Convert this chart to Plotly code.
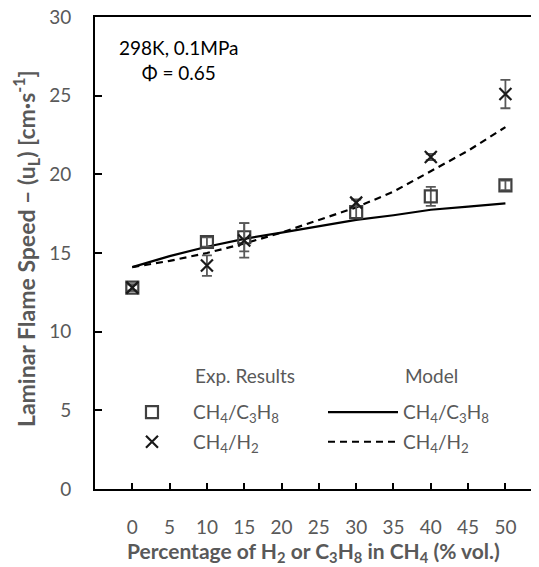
import plotly.graph_objects as go

# experimental points (x = % H2 or C3H8 in CH4)
exp_x = [0, 10, 15, 30, 40, 50]
c3h8_y = [12.8, 15.7, 16.0, 17.6, 18.6, 19.3]
c3h8_err = [0.2, 0.3, 0.9, 0.4, 0.6, 0.3]
h2_y = [12.8, 14.2, 15.8, 18.2, 21.1, 25.1]
h2_err = [0.2, 0.65, 1.1, 0.2, 0.2, 0.9]

# model curves
model_x = [0, 5, 10, 15, 20, 25, 30, 35, 40, 45, 50]
model_c3h8 = [14.1, 14.8, 15.4, 15.9, 16.3, 16.7, 17.1, 17.4, 17.75, 17.95, 18.15]
model_h2 = [14.1, 14.5, 15.0, 15.6, 16.3, 17.1, 17.9, 18.9, 20.2, 21.5, 23.0]

x_ticks = [0, 5, 10, 15, 20, 25, 30, 35, 40, 45, 50]
y_ticks = [0, 5, 10, 15, 20, 25, 30]

FONT = 'Lato'
GREY = '#595959'
c3h8 = 'CH<sub>4</sub>/C<sub>3</sub>H<sub>8</sub>'
h2 = 'CH<sub>4</sub>/H<sub>2</sub>'

fig = go.Figure()

fig.add_trace(go.Scatter(x=model_x, y=model_c3h8, mode='lines', name=c3h8,
                         line=dict(color='black', width=2.2),
                         legend='legend2', legendgroup='m1'))
fig.add_trace(go.Scatter(x=model_x, y=model_h2, mode='lines', name=h2,
                         line=dict(color='black', width=2.2, dash='7px,5px'),
                         legend='legend2', legendgroup='m2'))

fig.add_trace(go.Scatter(x=exp_x, y=c3h8_y, mode='markers', name=c3h8,
                         marker=dict(symbol='square-open', size=12, color='#404040',
                                     line=dict(width=2.2)),
                         error_y=dict(type='data', array=c3h8_err, color=GREY,
                                      thickness=1.8, width=5),
                         legend='legend', legendgroup='e1'))
fig.add_trace(go.Scatter(x=exp_x, y=h2_y, mode='markers', name=h2,
                         marker=dict(symbol='x-thin-open', size=12, color='#1a1a1a',
                                     line=dict(width=2.2, color='#1a1a1a')),
                         error_y=dict(type='data', array=h2_err, color=GREY,
                                      thickness=1.8, width=5),
                         legend='legend', legendgroup='e2'))

# texts
fig.add_annotation(x=0.19, y=0.909, xref='paper', yref='paper', showarrow=False,
                   xanchor='center', yanchor='middle',
                   text='298K, 0.1MPa<br>Φ = 0.65', align='center',
                   font=dict(family=FONT, size=19, color='black'))
fig.add_annotation(x=0.221, y=0.211, xref='paper', yref='paper', showarrow=False,
                   xanchor='left', text='Exp. Results',
                   font=dict(family=FONT, size=19, color=GREY))
fig.add_annotation(x=0.694, y=0.211, xref='paper', yref='paper', showarrow=False,
                   xanchor='left', text='Model',
                   font=dict(family=FONT, size=19, color=GREY))
# axis titles
fig.add_annotation(x=0.492, y=-0.1335, xref='paper', yref='paper', showarrow=False,
                   xanchor='center', yanchor='middle',
                   text='<b>Percentage of H<sub>2</sub> or C<sub>3</sub>H<sub>8</sub> in CH<sub>4</sub> (% vol.)</b>',
                   font=dict(family=FONT, size=21, color=GREY))
fig.add_annotation(x=-0.156, y=0.51, xref='paper', yref='paper', showarrow=False,
                   xanchor='center', yanchor='middle', textangle=-90,
                   text='<b>Laminar Flame Speed – (u<sub>L</sub>) [cm·s<sup>-1</sup>]</b>',
                   font=dict(family=FONT, size=23, color=GREY))

leg = dict(font=dict(family=FONT, size=19, color=GREY), bgcolor='rgba(0,0,0,0)',
           tracegroupgap=2, xanchor='left', yanchor='top')
# page body has an 8px margin, so the figure is 8px smaller and shifted
fig.update_layout(
    width=531, height=559,
    margin=dict(l=87, r=0, t=9, b=78),
    plot_bgcolor='white', paper_bgcolor='white',
    font=dict(family=FONT, color=GREY),
    legend=dict(x=0.036, y=0.203, itemwidth=72, **leg),
    legend2=dict(x=0.5135, y=0.203, itemwidth=70, **leg),
    xaxis=dict(range=[-5, 54.5], tickvals=x_ticks, ticks='inside', ticklen=6,
               tickwidth=2, tickcolor='black', showline=True, linecolor='black',
               linewidth=2, mirror=True, showgrid=False, zeroline=False,
               automargin=False,
               tickfont=dict(family=FONT, size=19, color=GREY), ticklabelstandoff=20),
    yaxis=dict(range=[0, 30], tickvals=y_ticks, ticks='inside', ticklen=7,
               tickwidth=2, tickcolor='black', showline=True, linecolor='black',
               linewidth=2, showgrid=False, zeroline=False, automargin=False,
               ticklabeloverflow='allow',
               tickfont=dict(family=FONT, size=19, color=GREY), ticklabelstandoff=18),
)

fig.write_html("out.html")
